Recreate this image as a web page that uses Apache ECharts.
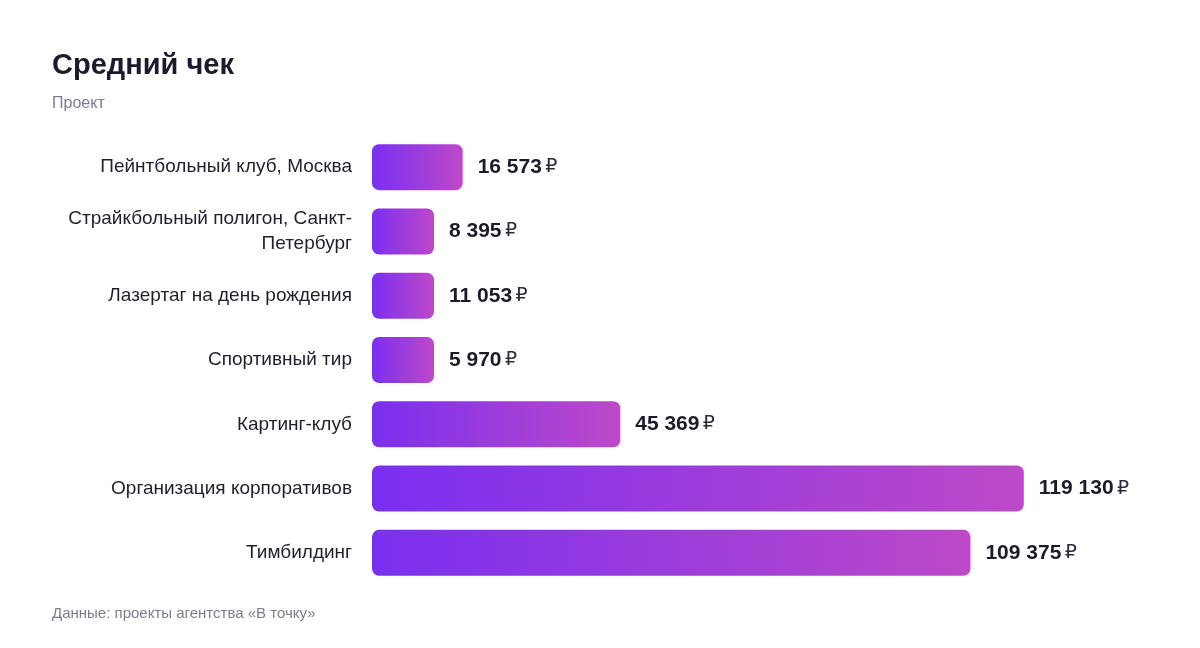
<!DOCTYPE html>
<html>
<head>
<meta charset="utf-8">
<script src="https://cdn.jsdelivr.net/npm/echarts@6/dist/echarts.min.js"></script>
<style>
html,body{margin:0;padding:0;background:#fff;}
#container{width:1200px;height:648px;}
</style>
</head>
<body>
<div id="container"></div>
<script>
var categories = [
	'Пейнтбольный клуб, Москва',
	'Страйкбольный полигон, Санкт-\nПетербург',
	'Лазертаг на день рождения',
	'Спортивный тир',
	'Картинг-клуб',
	'Организация корпоративов',
	'Тимбилдинг'
];
var values = [16573, 8395, 11053, 5970, 45369, 119130, 109375];

var FONT = '"Liberation Sans", Arial, sans-serif';

function fmt(v){
	return String(v).replace(/\B(?=(\d{3})+(?!\d))/g, ' ');
}

var myChart = echarts.init(document.getElementById('container'));
var option = {
	backgroundColor: '#fff',
	animation: false,
	title: [{
		text: 'Средний чек',
		left: 47, top: 46,
		textStyle: {fontFamily: FONT, fontSize: 29, fontWeight: 'bold', color: '#1b1b2b'}
	},{
		text: 'Проект',
		left: 47, top: 91,
		textStyle: {fontFamily: FONT, fontSize: 16, fontWeight: 'normal', color: '#7c7c8e'}
	},{
		text: 'Данные: проекты агентства «В точку»',
		left: 47, top: 601,
		textStyle: {fontFamily: FONT, fontSize: 15, fontWeight: 'normal', color: '#7c7c8e'}
	}],
	grid: {left: 372, right: 62, top: 135, bottom: 63},
	xAxis: {
		type: 'value',
		min: 0,
		max: 140000,
		show: false
	},
	yAxis: {
		type: 'category',
		inverse: true,
		data: categories,
		axisLine: {show: false},
		axisTick: {show: false},
		splitLine: {show: false},
		axisLabel: {
			margin: 20,
			fontFamily: FONT,
			fontSize: 19,
			lineHeight: 25,
			color: '#1f1f2e',
			align: 'right'
		}
	},
	series: [{
		type: 'bar',
		data: values,
		barWidth: 46,
		barMinHeight: 62,
		itemStyle: {
			borderRadius: 7,
			color: new echarts.graphic.LinearGradient(0, 0, 1, 0, [
				{offset: 0, color: '#7a2ff0'},
				{offset: 1, color: '#bd49c8'}
			])
		},
		label: {
			show: true,
			position: 'right',
			distance: 15,
			formatter: function(p){ return '{n|' + fmt(p.value) + '} {r|₽}'; },
			rich: {
				n: {fontFamily: FONT, fontSize: 21, fontWeight: 'bold', color: '#1b1b2b'},
				r: {fontFamily: '"DejaVu Sans"', fontSize: 19, fontWeight: 'normal', color: '#2b2b3b'}
			}
		}
	}]
};
myChart.setOption(option);
</script>
</body>
</html>
